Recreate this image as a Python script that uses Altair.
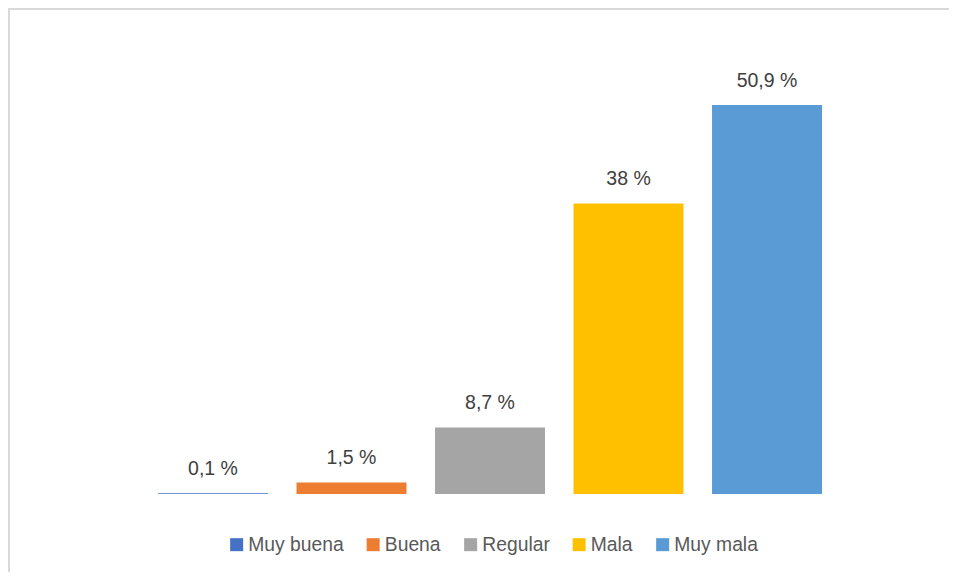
import altair as alt
import pandas as pd

categories = ["Muy buena", "Buena", "Regular", "Mala", "Muy mala"]
values = [0.1, 1.5, 8.7, 38, 50.9]
colors = ["#4472C4", "#ED7D31", "#A5A5A5", "#FFC000", "#5B9BD5"]
labels = [f"{v:g}".replace(".", ",") + " %" for v in values]

df = pd.DataFrame({"cat": categories, "val": values, "lab": labels})

FONT = "Liberation Sans"

x = alt.X("cat:N", sort=categories, axis=None,
          scale=alt.Scale(paddingInner=0.206, paddingOuter=0))
y = alt.Y("val:Q", axis=None, scale=alt.Scale(domain=[0, 63.6], nice=False, zero=True))

bars = alt.Chart(df).mark_bar().encode(
    x=x, y=y,
    color=alt.Color("cat:N", sort=categories,
                    scale=alt.Scale(domain=categories, range=colors),
                    legend=alt.Legend(title=None, orient="none", direction="horizontal",
                                      legendX=69, legendY=527,
                                      symbolType="square", symbolSize=169,
                                      symbolStrokeWidth=0, symbolOpacity=1,
                                      labelFont=FONT, labelFontSize=19.3,
                                      labelColor="#595959", labelOffset=2,
                                      columnPadding=19.5, padding=0)),
)

text = alt.Chart(df).mark_text(baseline="alphabetic", dy=-18.5, font=FONT,
                               fontSize=19.5, color="#404040").encode(
    x=x, y=y, text="lab:N")

one = pd.DataFrame({"a": [0]})
left_border = alt.Chart(one).mark_rule(color="#d9d9d9", strokeWidth=2).encode(
    x=alt.value(-149), y=alt.value(0), y2=alt.value(600))
top_border = alt.Chart(one).mark_rule(color="#d9d9d9", strokeWidth=2).encode(
    x=alt.value(-150), x2=alt.value(900), y=alt.value(1))

chart = alt.layer(bars, text, left_border, top_border).properties(
    width=664, height=486,
    autosize=alt.AutoSizeParams(type="none"),
    padding={"left": 150, "top": 0, "right": 127, "bottom": 78},
).configure_view(stroke=None)

chart.save("out.html", embed_options={"renderer": "svg", "actions": False})
